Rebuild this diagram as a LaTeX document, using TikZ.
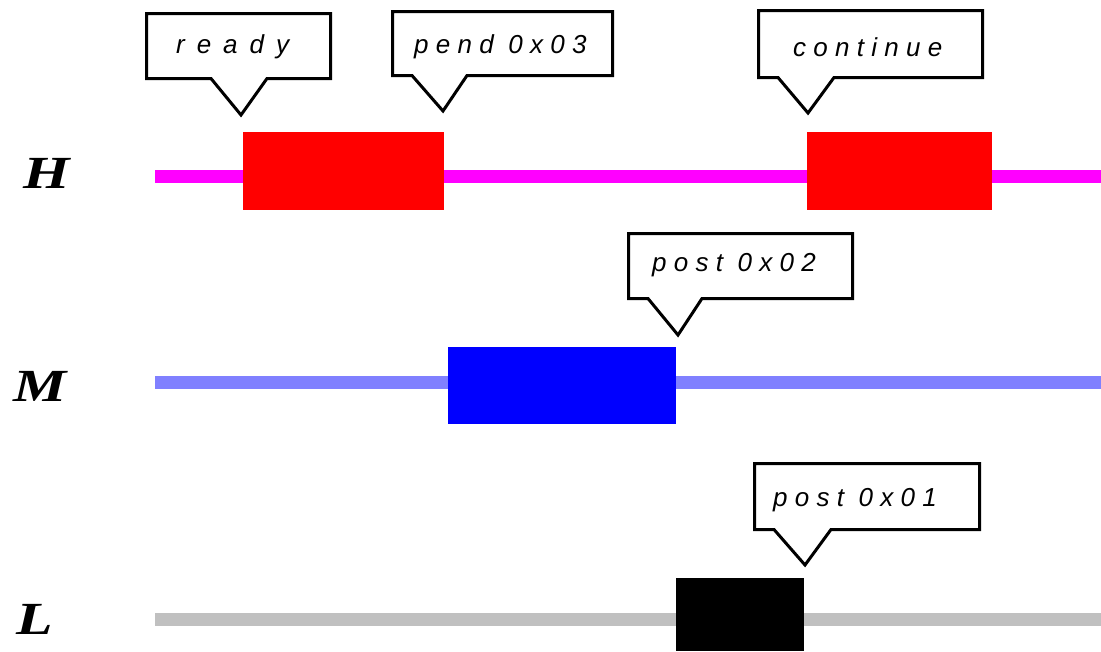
\documentclass[tikz,border=0pt]{standalone}
\usepackage{fontspec}
\newfontfamily\calloutfont[LetterSpace=28]{Liberation Sans}
\newfontfamily\widecalloutfont[LetterSpace=46]{Liberation Sans}
\newfontfamily\levelfont{Liberation Serif}
\definecolor{hiline}{HTML}{FF00FF}
\definecolor{midline}{HTML}{8080FF}
\definecolor{loline}{HTML}{C0C0C0}
\definecolor{hitask}{HTML}{FF0000}
\definecolor{midtask}{HTML}{0000FF}
\definecolor{lotask}{HTML}{000000}
\tikzset{
  timeline/.style={line width=13pt},
  bubbleframe/.style={draw=black, fill=white, line width=3pt, line join=miter},
  bubbletext/.style={anchor=base west, inner sep=0pt, font=\fontsize{26}{30}\selectfont\calloutfont\itshape},
  levellabel/.style={anchor=base, inner sep=0pt, font=\fontsize{46}{50}\selectfont\levelfont\bfseries\itshape}
}
% speech bubble: left, top, right, bottom, pointer base left, pointer base right, tip x, tip y
\newcommand\speechbox[8]{%
  \draw[bubbleframe] (#1,#2) -- (#3,#2) -- (#3,#4) -- (#6,#4) -- (#7,#8) -- (#5,#4) -- (#1,#4) -- cycle;%
}
\begin{document}
\begin{tikzpicture}[x=1pt, y=-1pt]
  \useasboundingbox (0,0) rectangle (1101,651);

  % priority levels
  \node[levellabel] (lvlH) at (47,188) {\scalebox{1.3}[1]{H}};
  \node[levellabel] (lvlM) at (40,401) {\scalebox{1.3}[1]{M}};
  \node[levellabel] (lvlL) at (35,634) {\scalebox{1.3}[1]{L}};

  % timelines
  \coordinate (hA) at (155,176.5);  \coordinate (hB) at (1101,176.5);
  \coordinate (mA) at (155,382.5);  \coordinate (mB) at (1101,382.5);
  \coordinate (lA) at (155,619.5);  \coordinate (lB) at (1101,619.5);
  \draw[timeline, hiline]  (hA) -- (hB);
  \draw[timeline, midline] (mA) -- (mB);
  \draw[timeline, loline]  (lA) -- (lB);

  % running intervals
  \fill[hitask]  (243,132) rectangle (444,210);
  \fill[hitask]  (807,132) rectangle (992,210);
  \fill[midtask] (448,347) rectangle (676,424);
  \fill[lotask]  (676,578) rectangle (804,651);

  % event bubbles
  \speechbox{146.5}{13.5}{330.5}{78.5}{211}{267}{241}{115}
  \node[bubbletext, font=\fontsize{26}{30}\selectfont\widecalloutfont\itshape] (evReady) at (176,53) {ready};

  \speechbox{392.5}{11.5}{612.5}{75.5}{412}{467}{443}{111}
  \node[bubbletext] (evPend) at (414,53) {pend 0x03};

  \speechbox{758.5}{10.5}{982.5}{77.5}{778}{834}{808}{113}
  \node[bubbletext] (evCont) at (793,56) {continue};

  \speechbox{628.5}{233.5}{852.5}{298.5}{648}{702}{678}{335}
  \node[bubbletext] (evPost2) at (652,271) {post 0x02};

  \speechbox{754.5}{463.5}{979.5}{529.5}{774}{831}{805}{565}
  \node[bubbletext] (evPost1) at (773,506) {post 0x01};
\end{tikzpicture}
\end{document}
